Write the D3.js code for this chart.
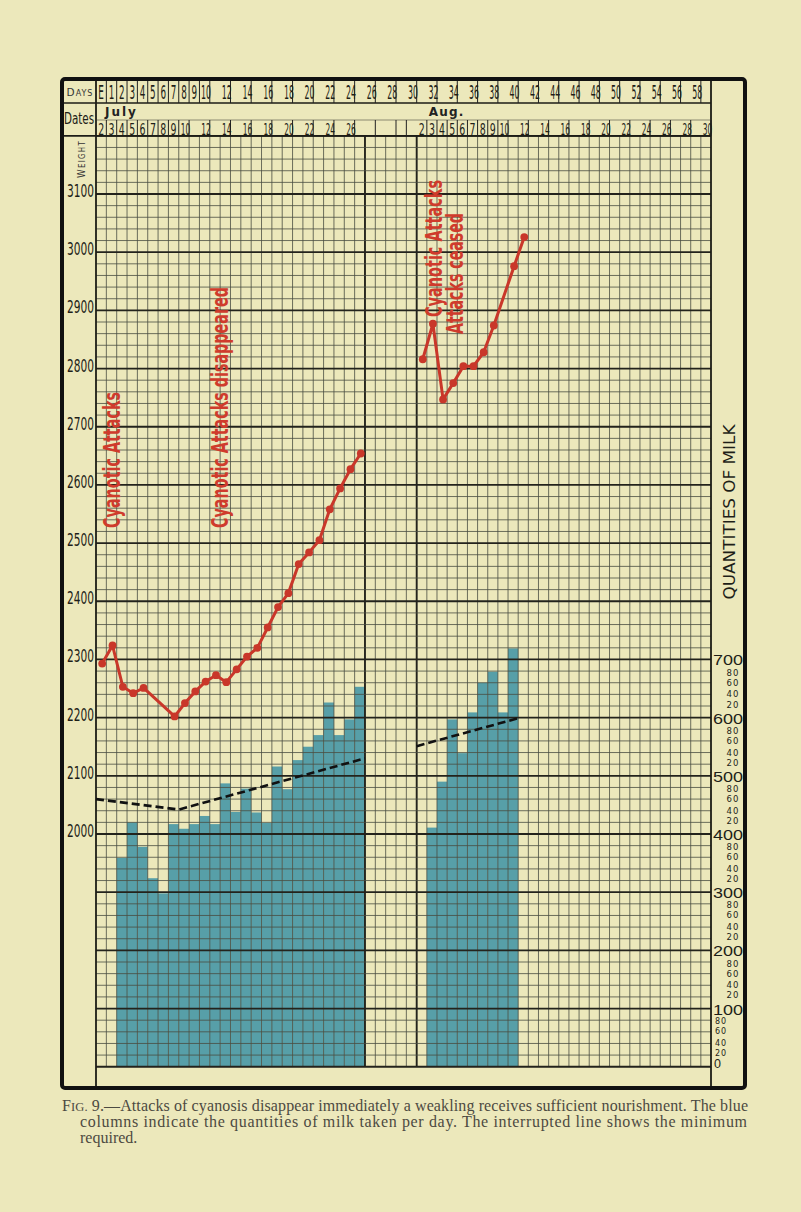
<!DOCTYPE html>
<html><head><meta charset="utf-8">
<script src="https://cdn.jsdelivr.net/npm/d3@7/dist/d3.min.js"></script>
<style>
html,body{margin:0;padding:0;background:#ece8bb;}
svg{display:block;}
</style></head><body>
<svg id="chart" width="801" height="1212"></svg>
<script>
// ---------------- data ----------------
const dayLabels = ["E","1","2","3","4","5","6","7","8","9","10","12","14","16","18","20","22","24","26","28","30","32","34","36","38","40","42","44","46","48","50","52","54","56","58"];
const julyDates = ["2","3","4","5","6","7","8","9","10","12","14","16","18","20","22","24","26"];
const augDates  = ["2","3","4","5","6","7","8","9","10","12","14","16","18","20","22","24","26","28","30"];

const weightTicks = [3100,3000,2900,2800,2700,2600,2500,2400,2300,2200,2100,2000];
const milkTicks = [700,600,500,400,300,200,100,0];
const milkMinorLabels = ["80","60","40","20"];

// body weight (g), by day number
const julyWeightDays = [0,1,2,3,4,7,8,9,10,11,12,13,14,15,16,17,18,19,20,21,22,23,24,25];
const julyWeights    = [2293,2324,2253,2242,2251,2202,2225,2245,2262,2273,2261,2283,2305,2320,2355,2390,2414,2464,2484,2505,2558,2594,2627,2654];
const augWeightDays  = [31,32,33,34,35,36,37,38,40,41];
const augWeights     = [2816,2877,2747,2775,2804,2804,2828,2874,2976,3026];

// milk taken per day
const julyMilkDays = [2,3,4,5,6,7,8,9,10,11,12,13,14,15,16,17,18,19,20,21,22,23,24,25];
const julyMilk     = [359,420,378,324,298,417,409,417,431,417,487,438,478,437,419,516,477,527,550,570,626,570,597,653];
const augMilkDays  = [32,33,34,35,36,37,38,39,40];
const augMilk      = [411,490,597,539,609,660,679,609,719];

// minimum required (interrupted line), at day boundaries
const julyMinDays = [0,8,26];
const julyMin     = [460,442,530];
const augMinDays  = [31,41];
const augMin      = [551,599];

const notes = [
  {text:"Cyanotic Attacks", day:2.3, y0:528, len:136},
  {text:"Cyanotic Attacks disappeared", day:12.8, y0:528, len:241},
  {text:"Cyanotic Attacks", day:33.45, y0:317, len:137},
  {text:"Attacks ceased", day:35.6, y0:334, len:121}
];

// ---------------- drawing ----------------
const svg = d3.select("#chart");
const paper = "#ece8bb";
const red = "#c9372a";
const narrow = "'Liberation Sans Narrow','Arial Narrow','DejaVu Sans Condensed',sans-serif";

svg.append("rect").attr("width",801).attr("height",1212).attr("fill",paper);

const x  = d3.scaleLinear().domain([0,31,60]).range([96,416.7,711]);
const yW = d3.scaleLinear().domain([2000,3100]).range([834,194]);
const yM = d3.scaleLinear().domain([0,700]).range([yW(1600), yW(2300)]);
const gridTop = yW(3200), gridBottom = yM(0);
const borderTop = 79, borderBottom = 1088, borderLeft = 62, borderRight = 745;

// bars
const barG = svg.append("g");
function drawBars(days, vals){
  barG.selectAll(null).data(days.map((d,i)=>({d, v:vals[i]}))).enter().append("rect")
    .attr("x", p=>x(p.d)).attr("width", p=>x(p.d+1)-x(p.d))
    .attr("y", p=>yM(p.v)).attr("height", p=>yM(0)-yM(p.v))
    .attr("fill","#579fa8");
}
drawBars(julyMilkDays, julyMilk);
drawBars(augMilkDays, augMilk);

// grid
const gridG = svg.append("g");
d3.range(0,61).forEach(k=>{
  if (k===0 || k===60) return;
  const thick = (k===26 || k===31);
  gridG.append("line").attr("x1",x(k)).attr("x2",x(k)).attr("y1",gridTop).attr("y2",gridBottom)
    .attr("stroke", thick ? "#23231c" : "#4a4d42").attr("stroke-width", thick?1.9:1)
    .attr("stroke-opacity", thick?1:0.8);
});
d3.range(1600,3201,20).forEach(v=>{
  const major = v%100===0;
  gridG.append("line").attr("x1",x(0)).attr("x2",x(60)).attr("y1",yW(v)).attr("y2",yW(v))
    .attr("stroke", major ? "#23231c" : "#4a4d42").attr("stroke-width", major?1.8:1)
    .attr("stroke-opacity", major?1:0.8);
});
[0,60].forEach(k=>{
  gridG.append("line").attr("x1",x(k)).attr("x2",x(k)).attr("y1",borderTop).attr("y2",borderBottom)
    .attr("stroke","#1c1c16").attr("stroke-width",1.8);
});

// minimum required dashed line
const lineMin = d3.line().x(p=>x(p.d)).y(p=>yM(p.v));
[[julyMinDays,julyMin],[augMinDays,augMin]].forEach(([ds,vs])=>{
  svg.append("path").attr("d", lineMin(ds.map((d,i)=>({d, v:vs[i]}))))
    .attr("fill","none").attr("stroke","#111").attr("stroke-width",2.6).attr("stroke-dasharray","8,4");
});

// weight lines
const lineW = d3.line().x(p=>x(p.d+0.5)+1).y(p=>yW(p.v));
[[julyWeightDays,julyWeights],[augWeightDays,augWeights]].forEach(([ds,vs])=>{
  const pts = ds.map((d,i)=>({d, v:vs[i]}));
  svg.append("path").attr("d", lineW(pts)).attr("fill","none").attr("stroke",red)
    .attr("stroke-width",3).attr("stroke-linejoin","round");
  svg.append("g").selectAll("circle").data(pts).enter().append("circle")
    .attr("cx",p=>x(p.d+0.5)+1).attr("cy",p=>yW(p.v)).attr("r",3.9).attr("fill",red);
});

// red annotations
notes.forEach(n=>{
  svg.append("text").attr("transform",`translate(${x(n.day)},${n.y0}) rotate(-90)`)
    .attr("font-family",narrow).attr("font-weight","bold").attr("font-size",23).attr("fill","#cf3b2c")
    .attr("textLength",n.len).attr("lengthAdjust","spacingAndGlyphs").text(n.text);
});

// ---------------- header ----------------
const hdr = svg.append("g");
const dayRowBottom = 103, dateLineY = 120;
hdr.append("line").attr("x1",borderLeft).attr("x2",x(60)).attr("y1",dayRowBottom).attr("y2",dayRowBottom)
  .attr("stroke","#1c1c16").attr("stroke-width",1.6);
hdr.append("line").attr("x1",x(0)).attr("x2",x(60)).attr("y1",dateLineY).attr("y2",dateLineY)
  .attr("stroke","#3a3a30").attr("stroke-width",0.9).attr("stroke-opacity",0.6);
hdr.append("line").attr("x1",borderLeft).attr("x2",x(60)).attr("y1",gridTop).attr("y2",gridTop)
  .attr("stroke","#1c1c16").attr("stroke-width",1.8);

const dayPos = l => l==="E" ? 0 : +l;
dayLabels.forEach(l=>{
  const d = dayPos(l);
  hdr.append("line").attr("x1",x(d+1)).attr("x2",x(d+1)).attr("y1",borderTop).attr("y2",dayRowBottom)
    .attr("stroke","#222").attr("stroke-width",1);
  hdr.append("text").attr("x",x(d+0.5)+(l.length>1?1.5:0)).attr("y",99)
    .attr("text-anchor","middle").attr("font-family",narrow).attr("font-size",19).attr("fill","#1e1e18")
    .attr("textLength", l.length>1 ? 10 : 5.6).attr("lengthAdjust","spacingAndGlyphs").text(l);
});

function dateRow(labels, offset){
  labels.forEach(l=>{
    const d = +l + offset;
    hdr.append("line").attr("x1",x(d+1)).attr("x2",x(d+1)).attr("y1",dateLineY).attr("y2",gridTop)
      .attr("stroke","#222").attr("stroke-width",1);
    hdr.append("text").attr("x",x(d+0.5)+(l.length>1?1.5:0)).attr("y",134.5)
      .attr("text-anchor","middle").attr("font-family",narrow).attr("font-size",15).attr("fill","#1e1e18")
      .attr("textLength", l.length>1 ? 9.5 : 6).attr("lengthAdjust","spacingAndGlyphs").text(l);
  });
}
dateRow(julyDates, -2);
dateRow(augDates, 29);
[27,29,30].forEach(k=>{
  hdr.append("line").attr("x1",x(k)).attr("x2",x(k)).attr("y1",dateLineY).attr("y2",gridTop)
    .attr("stroke","#222").attr("stroke-width",1);
});

hdr.append("text").attr("x",x(0)+9).attr("y",115.5).attr("font-family","'DejaVu Sans',sans-serif")
  .attr("font-weight","bold").attr("font-size",12).attr("letter-spacing",2).attr("fill","#222").text("July");
hdr.append("text").attr("x",x(31)+12).attr("y",115.5).attr("font-family","'DejaVu Sans',sans-serif")
  .attr("font-weight","bold").attr("font-size",12).attr("letter-spacing",1.2).attr("fill","#222").text("Aug.");

// left column labels
const days = hdr.append("text").attr("x",80).attr("y",96).attr("text-anchor","middle")
  .attr("font-family","'DejaVu Sans',sans-serif").attr("fill","#333").attr("letter-spacing",1);
days.append("tspan").attr("font-size",10.5).text("D");
days.append("tspan").attr("font-size",8).text("AYS");
hdr.append("text").attr("transform","translate(79,124) scale(0.72,1)").attr("text-anchor","middle")
  .attr("font-family",narrow).attr("font-size",16).attr("fill","#1e1e18").text("Dates");
const wt = hdr.append("text").attr("transform","translate(85,178) rotate(-90)")
  .attr("font-family","'DejaVu Sans',sans-serif").attr("fill","#333").attr("letter-spacing",1.5)
  .attr("textLength",38).attr("lengthAdjust","spacingAndGlyphs");
wt.append("tspan").attr("font-size",10).text("W");
wt.append("tspan").attr("font-size",8).text("EIGHT");

weightTicks.forEach(v=>{
  hdr.append("text").attr("x",94).attr("y",yW(v)+3).attr("text-anchor","end")
    .attr("font-family",narrow).attr("font-size",18).attr("fill","#1e1e18")
    .attr("textLength",27).attr("lengthAdjust","spacingAndGlyphs").text(v);
});

// right milk labels
milkTicks.forEach(v=>{
  if (v===0){
    hdr.append("text").attr("x",714).attr("y",yM(0)+1.5).attr("font-family","'Liberation Sans',sans-serif")
      .attr("font-size",12.5).attr("fill","#1e1e18").text("0");
    return;
  }
  hdr.append("text").attr("x",728).attr("y",yM(v)+6).attr("text-anchor","middle")
    .attr("font-family","'Liberation Sans',sans-serif").attr("font-size",15.5).attr("fill","#1e1e18")
    .attr("textLength",30).attr("lengthAdjust","spacingAndGlyphs").text(v);
  milkMinorLabels.forEach(s=>{
    const val = v - 100 + (+s);
    const low = v===100;
    const dy = s==="80" ? 1.5 : (s==="20" ? -1.5 : 0);
    hdr.append("text").attr("x", low ? 721 : 733).attr("y",yM(val)+dy).attr("text-anchor","middle")
      .attr("dominant-baseline","central").attr("font-family","'DejaVu Sans',sans-serif")
      .attr("font-size",low?8:8.5).attr("letter-spacing",1).attr("fill","#1e1e18").text(s);
  });
});
hdr.append("text").attr("transform","translate(730,512) rotate(-90)").attr("text-anchor","middle")
  .attr("dominant-baseline","central").attr("font-family","'DejaVu Sans',sans-serif").attr("font-size",15)
  .attr("fill","#1e1e18").attr("textLength",175).attr("lengthAdjust","spacingAndGlyphs").text("QUANTITIES OF MILK");

// outer border
svg.append("rect").attr("x",borderLeft).attr("y",borderTop).attr("width",borderRight-borderLeft)
  .attr("height",borderBottom-borderTop).attr("rx",3).attr("fill","none").attr("stroke","#111").attr("stroke-width",4);

// caption
const cap = svg.append("g").attr("font-family","'Liberation Serif',serif").attr("font-size",16).attr("fill","#4c4a42");
const c1 = cap.append("text").attr("x",62).attr("y",1111).attr("textLength",686).attr("lengthAdjust","spacing");
c1.append("tspan").text("F");
c1.append("tspan").attr("font-size",12.5).text("IG.");
c1.append("tspan").text(" 9.\u2014Attacks of cyanosis disappear immediately a weakling receives sufficient nourishment.  The blue");
cap.append("text").attr("x",80).attr("y",1127).attr("textLength",667).attr("lengthAdjust","spacing")
  .text("columns indicate the quantities of milk taken per day.  The interrupted line shows the minimum");
cap.append("text").attr("x",80).attr("y",1143).text("required.");
</script>
</body></html>
